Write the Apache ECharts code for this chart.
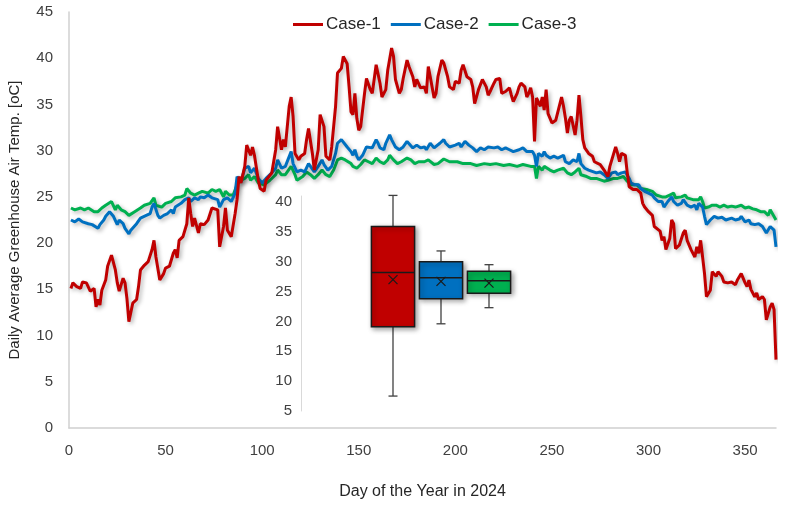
<!DOCTYPE html>
<html><head><meta charset="utf-8">
<script src="https://cdn.jsdelivr.net/npm/echarts/dist/echarts.min.js"></script>
<style>html,body{margin:0;padding:0;background:#fff}#c{width:786px;height:508px}</style>
</head><body><div id="c"></div>
<script>
// ---- data (day of year, daily average temperature in °C) ----
const seriesNames = ['Case-1', 'Case-2', 'Case-3'];

const case1Data = [[1,15.1],[2,15.7],[4,15.3],[6,15.1],[7,15.8],[9,15.7],[11,14.8],[13,15.1],[14,13.1],[15,13.9],[16,13.3],[17,14.9],[19,16.0],[20,17.5],[22,18.7],[24,17.1],[25,15.7],[26,14.8],[28,16.2],[29,15.7],[30,14.0],[31,11.5],[33,13.5],[35,13.9],[36,15.3],[37,17.1],[39,17.6],[41,18.0],[43,19.3],[44,20.3],[45,18.5],[47,16.0],[49,16.7],[50,17.3],[52,17.5],[54,18.9],[55,19.3],[56,18.4],[57,20.3],[59,20.7],[61,22.1],[62,24.9],[63,23.2],[64,21.8],[65,22.7],[67,21.1],[68,22.1],[70,22.0],[72,22.5],[74,23.8],[75,23.9],[77,23.6],[78,19.6],[80,21.8],[81,23.8],[82,21.4],[84,20.7],[86,23.2],[87,24.7],[88,27.2],[89,26.5],[91,28.3],[92,30.6],[94,29.5],[95,30.4],[96,29.5],[98,26.8],[99,25.9],[101,25.6],[102,26.8],[105,27.6],[107,30.1],[108,32.6],[110,30.1],[111,31.2],[112,30.4],[114,34.8],[115,35.8],[116,33.7],[117,29.7],[119,29.0],[120,29.4],[122,29.7],[123,31.2],[124,32.4],[126,29.7],[127,27.9],[129,30.1],[130,33.9],[132,32.6],[133,29.4],[135,29.0],[136,30.4],[138,34.8],[139,38.4],[141,38.9],[142,40.2],[144,39.4],[145,36.9],[146,34.2],[147,33.9],[148,36.2],[149,33.5],[150,32.2],[151,32.6],[153,36.2],[154,37.8],[155,37.7],[156,36.6],[157,36.2],[159,39.3],[160,39.5],[161,37.3],[162,35.8],[164,36.6],[165,38.7],[167,41.1],[168,40.2],[169,37.7],[171,36.2],[172,36.6],[173,37.8],[175,39.8],[176,39.1],[178,38.0],[179,36.9],[180,37.7],[182,36.8],[184,36.9],[185,36.2],[186,39.1],[187,38.0],[189,35.7],[190,36.2],[191,38.0],[193,39.8],[194,39.5],[196,38.0],[197,36.9],[199,36.6],[200,37.5],[202,37.3],[203,38.7],[204,39.3],[206,38.0],[208,37.7],[209,36.9],[210,35.1],[212,36.6],[213,36.8],[214,37.7],[216,36.9],[217,36.0],[218,36.4],[220,37.3],[221,37.7],[223,37.8],[224,36.2],[226,36.4],[228,36.8],[229,36.0],[230,35.3],[232,36.2],[233,36.9],[234,37.3],[236,36.9],[237,35.8],[238,36.2],[239,36.8],[240,35.8],[241,31.0],[242,35.7],[244,34.8],[245,35.8],[246,34.4],[247,36.6],[248,34.0],[250,33.0],[252,33.3],[253,33.5],[255,35.8],[256,34.8],[257,33.5],[258,31.9],[259,33.3],[260,33.7],[262,31.7],[263,33.3],[264,36.0],[265,33.7],[266,31.2],[267,30.3],[269,29.7],[271,29.4],[272,28.8],[273,29.0],[275,28.5],[277,27.9],[279,27.2],[280,28.3],[282,29.7],[283,30.4],[284,29.7],[285,28.8],[286,29.7],[288,29.5],[289,27.6],[290,26.1],[292,25.8],[294,25.8],[296,25.4],[297,24.3],[298,23.9],[300,23.4],[302,23.0],[303,21.8],[304,21.6],[306,21.3],[307,20.3],[308,20.7],[309,19.3],[311,20.5],[312,22.5],[313,22.1],[314,19.4],[316,19.8],[318,21.1],[319,21.4],[320,20.3],[322,19.3],[324,18.5],[325,19.6],[326,18.9],[327,20.3],[328,20.3],[329,16.7],[330,14.2],[332,14.9],[333,16.9],[335,16.4],[336,16.9],[338,16.4],[339,15.8],[341,15.7],[343,15.8],[345,15.5],[346,16.0],[348,16.7],[350,15.7],[351,15.3],[352,16.0],[353,15.0],[355,14.2],[356,14.6],[357,13.9],[359,14.2],[360,13.9],[361,11.7],[362,12.4],[363,13.1],[364,13.5],[365,12.8],[366,7.4]];

const case2Data = [[1,22.5],[3,22.3],[5,22.6],[7,22.3],[8,22.5],[10,22.1],[12,22.0],[13,22.2],[15,21.6],[16,22.0],[18,22.5],[19,22.9],[21,23.4],[23,22.9],[25,22.0],[26,22.5],[28,22.1],[29,21.6],[31,21.0],[32,21.4],[33,21.6],[35,22.1],[37,22.7],[38,22.9],[40,23.0],[42,23.2],[43,23.9],[44,24.3],[46,23.0],[47,22.7],[49,23.0],[51,23.2],[53,23.6],[54,23.2],[55,23.9],[56,24.1],[58,24.3],[60,24.7],[62,24.9],[63,24.5],[65,24.9],[67,24.7],[68,25.0],[70,24.9],[72,25.2],[74,24.9],[75,25.0],[77,24.7],[78,23.9],[80,24.7],[82,24.9],[84,24.5],[86,25.4],[87,27.2],[89,26.6],[91,28.1],[93,28.3],[94,27.6],[96,28.1],[98,27.0],[100,26.5],[102,27.0],[105,27.6],[107,28.1],[108,29.0],[110,28.1],[112,28.3],[113,28.5],[115,29.9],[116,28.6],[118,27.7],[120,27.9],[122,27.7],[124,28.6],[125,28.3],[127,27.7],[129,28.3],[131,29.0],[132,28.5],[134,27.9],[136,28.3],[138,29.7],[139,30.8],[141,31.2],[142,31.0],[144,30.4],[146,29.9],[147,29.5],[148,30.1],[149,29.4],[150,29.0],[152,29.5],[154,30.4],[155,30.4],[157,30.3],[159,31.2],[160,30.8],[161,30.3],[163,30.1],[164,30.8],[166,31.7],[167,31.2],[169,30.4],[171,30.1],[173,30.4],[175,31.0],[176,30.8],[178,30.3],[180,30.6],[182,30.3],[184,30.4],[185,30.1],[187,30.8],[189,30.3],[190,30.4],[192,30.8],[194,31.2],[195,30.8],[197,30.4],[200,30.6],[202,30.8],[203,30.4],[205,31.0],[207,30.6],[209,30.3],[211,29.9],[213,30.3],[215,30.1],[217,30.4],[220,30.3],[222,30.4],[224,30.1],[226,30.3],[228,30.1],[230,29.9],[233,30.1],[235,30.3],[237,29.9],[240,29.9],[241,29.5],[242,28.3],[243,29.7],[245,29.4],[246,29.9],[247,29.5],[249,29.2],[251,29.4],[253,29.2],[256,29.5],[257,28.8],[259,28.6],[261,29.0],[263,28.8],[264,29.7],[265,28.6],[267,28.1],[269,27.9],[270,27.7],[273,27.6],[275,27.7],[277,27.4],[279,27.0],[281,27.6],[283,27.7],[284,27.4],[286,27.6],[288,27.7],[290,27.0],[291,26.5],[293,26.3],[295,26.3],[296,25.9],[298,25.6],[300,25.4],[302,25.2],[303,24.9],[305,24.5],[307,24.5],[308,23.9],[310,24.5],[312,25.0],[313,24.5],[315,24.1],[317,24.3],[318,24.7],[320,24.1],[322,23.9],[324,24.1],[325,23.6],[326,24.3],[328,23.9],[329,22.9],[330,22.0],[332,22.5],[334,22.9],[336,22.7],[338,22.8],[340,22.5],[343,22.7],[345,22.5],[347,22.6],[348,22.9],[350,22.3],[352,22.5],[353,22.1],[355,22.0],[357,22.1],[359,21.8],[360,22.0],[361,21.1],[363,21.8],[364,21.9],[365,21.4],[366,19.6]];

const case3Data = [[1,23.8],[3,23.6],[6,23.8],[8,23.6],[10,23.8],[13,23.4],[15,23.4],[17,23.8],[19,24.1],[22,24.5],[24,23.6],[25,24.1],[27,23.6],[29,23.4],[31,23.0],[34,23.4],[37,23.8],[39,24.1],[42,24.3],[44,24.9],[45,24.1],[48,23.9],[50,24.3],[53,24.5],[55,24.9],[56,24.7],[58,25.0],[60,25.2],[61,25.9],[63,25.4],[65,25.2],[67,25.4],[69,25.6],[72,25.4],[74,25.8],[76,25.6],[78,25.8],[80,25.0],[81,25.6],[83,25.2],[85,25.2],[87,26.3],[88,26.7],[91,27.0],[93,27.4],[94,26.8],[96,27.2],[98,26.5],[101,26.3],[104,26.8],[107,27.4],[108,27.9],[110,27.4],[112,27.4],[115,28.3],[117,27.4],[118,26.8],[121,27.2],[123,27.7],[125,27.4],[127,27.0],[129,27.4],[131,27.9],[133,27.4],[135,27.2],[137,27.9],[139,29.0],[141,29.2],[143,29.0],[146,28.6],[147,28.3],[149,28.1],[151,28.5],[153,29.0],[155,28.8],[157,28.6],[159,29.2],[161,28.8],[163,28.6],[165,29.0],[166,29.5],[168,29.0],[170,28.6],[172,28.8],[175,29.2],[177,29.0],[179,28.6],[181,28.8],[184,28.8],[186,29.0],[189,28.5],[191,28.6],[194,29.1],[197,28.8],[201,28.8],[204,28.6],[208,28.6],[211,28.4],[215,28.6],[218,28.5],[221,28.6],[225,28.4],[228,28.5],[232,28.3],[235,28.5],[239,28.3],[241,28.3],[242,27.0],[243,28.3],[245,27.9],[246,28.3],[249,27.9],[251,27.7],[253,27.9],[256,28.1],[258,27.6],[260,27.4],[262,27.7],[264,28.1],[265,27.4],[268,27.2],[270,27.0],[273,27.0],[277,26.7],[279,26.8],[282,27.0],[284,27.0],[287,27.2],[289,26.7],[291,26.3],[294,26.3],[296,25.9],[299,25.8],[302,25.6],[304,25.2],[307,25.0],[309,25.0],[311,25.2],[313,25.4],[314,24.9],[317,25.0],[319,25.2],[320,24.9],[323,24.7],[324,24.9],[326,24.7],[327,25.0],[328,24.5],[329,23.8],[331,23.9],[333,24.1],[335,24.1],[337,23.9],[339,24.1],[341,23.9],[343,24.0],[345,23.9],[348,24.1],[350,23.8],[352,23.9],[354,23.7],[356,23.6],[358,23.4],[360,23.4],[362,23.0],[363,23.6],[364,23.4],[366,22.5]];

// inset box plot: [min, Q1, median, Q3, max] and mean
const boxCategories = ['Case-1', 'Case-2', 'Case-3'];
const boxStats = [
  [7.5, 19.1, 28.2, 35.9, 41.1],
  [19.6, 23.8, 27.3, 30.0, 31.8],
  [22.3, 24.7, 26.8, 28.4, 29.5]
];
const boxMeans = [27.0, 26.7, 26.4];

// ---- chart ----
const caseColors = ['#C00000', '#0070C0', '#00B050'];
const FONT = 'Liberation Sans';
const chart = echarts.init(document.getElementById('c'), null, {renderer: 'canvas'});

const lineShadow = {shadowColor: 'rgba(0,0,0,0.30)', shadowBlur: 4, shadowOffsetX: 2, shadowOffsetY: 2};

const lineSeries = [case1Data, case2Data, case3Data].map((d, i) => ({
  name: seriesNames[i],
  type: 'line',
  xAxisIndex: 0, yAxisIndex: 0,
  data: d,
  symbol: 'none',
  showSymbol: false,
  lineStyle: Object.assign({color: caseColors[i], width: 3}, lineShadow),
  itemStyle: {color: caseColors[i]},
  z: 3 - i
}));

const boxData = boxStats.map((s, i) => [i, s[0], s[1], s[2], s[3], s[4], boxMeans[i]]);

const boxSeries = {
  name: 'Box',
  type: 'custom',
  xAxisIndex: 1, yAxisIndex: 1,
  data: boxData,
  z: 10,
  renderItem: function (params, api) {
    const idx = api.value(0);
    const pMin = api.coord([idx, api.value(1)]);
    const pQ1 = api.coord([idx, api.value(2)]);
    const pMed = api.coord([idx, api.value(3)]);
    const pQ3 = api.coord([idx, api.value(4)]);
    const pMax = api.coord([idx, api.value(5)]);
    const pMean = api.coord([idx, api.value(6)]);
    const bw = api.size([1, 0])[0] * 0.9;
    const cx = pMin[0];
    const cap = 4.5;
    const wStyle = {stroke: '#404040', lineWidth: 1.3};
    const m = 4.5;
    return {
      type: 'group',
      children: [
        {type: 'line', shape: {x1: cx, y1: pMax[1], x2: cx, y2: pQ3[1]}, style: wStyle},
        {type: 'line', shape: {x1: cx, y1: pQ1[1], x2: cx, y2: pMin[1]}, style: wStyle},
        {type: 'line', shape: {x1: cx - cap, y1: pMax[1], x2: cx + cap, y2: pMax[1]}, style: wStyle},
        {type: 'line', shape: {x1: cx - cap, y1: pMin[1], x2: cx + cap, y2: pMin[1]}, style: wStyle},
        {type: 'rect', shape: {x: cx - bw / 2, y: pQ3[1], width: bw, height: pQ1[1] - pQ3[1]},
          style: {fill: caseColors[idx], stroke: '#1a1a1a', lineWidth: 1.5,
            shadowColor: 'rgba(0,0,0,0.35)', shadowBlur: 5, shadowOffsetX: 2, shadowOffsetY: 2}},
        {type: 'line', shape: {x1: cx - bw / 2, y1: pMed[1], x2: cx + bw / 2, y2: pMed[1]}, style: {stroke: '#1a1a1a', lineWidth: 1.5}},
        {type: 'line', shape: {x1: pMean[0] - m, y1: pMean[1] - m, x2: pMean[0] + m, y2: pMean[1] + m}, style: {stroke: '#1a1a1a', lineWidth: 1.2}},
        {type: 'line', shape: {x1: pMean[0] - m, y1: pMean[1] + m, x2: pMean[0] + m, y2: pMean[1] - m}, style: {stroke: '#1a1a1a', lineWidth: 1.2}}
      ]
    };
  }
};

const option = {
  backgroundColor: '#ffffff',
  animation: false,
  textStyle: {fontFamily: FONT},
  legend: {
    data: seriesNames,
    left: 288, top: 11,
    icon: 'rect', itemWidth: 30, itemHeight: 3, itemGap: 10,
    textStyle: {fontFamily: FONT, fontSize: 17, color: '#262626', padding: [0, 0, 0, -2]}
  },
  grid: [
    {left: 69, right: 10, top: 12, bottom: 80, outerBoundsMode: 'none', containLabel: false},
    {left: 369, width: 144, top: 196, bottom: 97, outerBoundsMode: 'none', containLabel: false}
  ],
  xAxis: [
    {
      type: 'value', gridIndex: 0, min: 0, max: 366, interval: 50,
      name: 'Day of the Year in 2024', nameLocation: 'middle', nameGap: 56,
      nameTextStyle: {fontFamily: FONT, fontSize: 16, color: '#262626'},
      axisLine: {show: true, lineStyle: {color: '#d0d0d0', width: 1.5}},
      axisTick: {show: false},
      splitLine: {show: false},
      axisLabel: {fontFamily: FONT, fontSize: 15, color: '#404040', margin: 15,
        formatter: v => (v % 50 === 0 ? String(v) : '')}
    },
    {
      type: 'category', gridIndex: 1, data: boxCategories, show: false
    }
  ],
  yAxis: [
    {
      type: 'value', gridIndex: 0, min: 0, max: 45, interval: 5,
      name: 'Daily Average Greenhouse Air Temp. [oC]', nameLocation: 'middle', nameGap: 47,
      nameTextStyle: {fontFamily: FONT, fontSize: 15, color: '#262626'},
      axisLine: {show: true, lineStyle: {color: '#d0d0d0', width: 1.5}},
      axisTick: {show: false},
      splitLine: {show: false},
      axisLabel: {fontFamily: FONT, fontSize: 15, color: '#404040', margin: 16}
    },
    {
      type: 'value', gridIndex: 1, min: 5, max: 41, interval: 5, offset: 68,
      axisLine: {show: true, lineStyle: {color: '#d9d9d9', width: 1}},
      axisTick: {show: false},
      splitLine: {show: false},
      axisLabel: {fontFamily: FONT, fontSize: 15, color: '#404040', margin: 9,
        formatter: v => (v % 5 === 0 ? String(v) : '')}
    }
  ],
  series: lineSeries.concat([boxSeries])
};
chart.setOption(option);
</script>
</body></html>
